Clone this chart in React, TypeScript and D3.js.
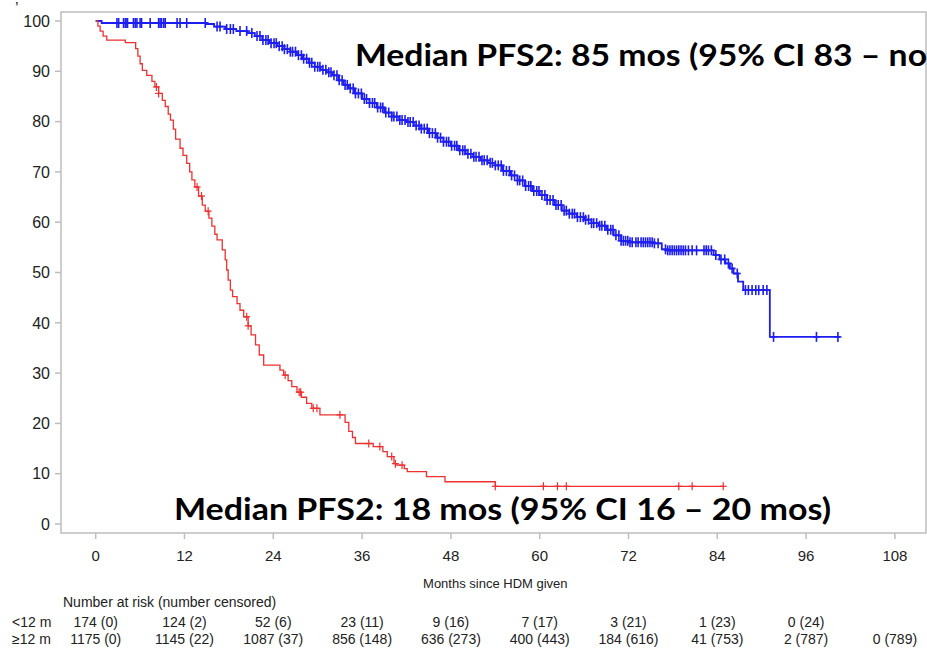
import React from 'react';
import * as d3 from 'd3';

const W = 927;
const H = 659;

const X_TICKS = [0, 12, 24, 36, 48, 60, 72, 84, 96, 108];
const Y_TICKS = [0, 10, 20, 30, 40, 50, 60, 70, 80, 90, 100];

// ≥12 m group (blue) Kaplan-Meier steps
const BLUE_T = [0, 0.8, 15, 16, 17.5, 19, 20.5, 21.5, 22.5, 23.5, 24.5, 25.5, 26.3, 27.2, 28, 28.8, 29.6, 30.4, 31.2, 32, 32.8, 33.5, 34.2, 35, 36, 37, 38, 39, 40, 41, 42, 43, 44, 45, 46, 47, 48, 49, 50, 51, 52, 53, 54, 55, 56, 57, 58, 59, 60, 61, 62, 63, 64, 65, 66, 67, 68, 69, 70, 71, 72, 75.5, 76.5, 77.3, 83.5, 84.3, 85.1, 85.7, 86.2, 86.8, 87.5, 91.1];
const BLUE_S = [100, 99.6, 99.4, 98.9, 98.4, 98.0, 97.6, 97.0, 96.2, 95.6, 95.0, 94.4, 93.9, 93.2, 92.5, 91.7, 90.9, 90.3, 89.8, 89.2, 88.2, 87.3, 86.6, 85.6, 84.5, 83.7, 82.8, 81.8, 81.0, 80.3, 79.9, 79.2, 78.6, 77.7, 76.8, 76.0, 75.2, 74.3, 73.6, 73.0, 72.3, 71.8, 71.3, 70.2, 69.3, 68.3, 67.2, 66.2, 65.4, 64.4, 63.4, 62.3, 61.7, 61.0, 60.5, 59.8, 59.3, 58.5, 57.4, 56.3, 56.0, 55.8, 54.6, 54.4, 53.5, 52.6, 51.8, 50.8, 49.8, 48.2, 46.5, 37.2];
const BLUE_END = 100.6;
const BLUE_CENSOR = [2.87, 3.1, 3.76, 4.0, 4.1, 4.3, 5.1, 5.34, 5.57, 6.0, 6.2, 7.36, 8.5, 8.7, 8.9, 9.2, 9.4, 11.0, 11.4, 12.3, 14.8, 16.4, 16.8, 17.7, 18.2, 18.6, 19.5, 20.4, 21.1,
  21.8, 22.2, 22.6, 23.0, 23.3, 23.7, 24.1, 24.4, 24.8, 25.2, 25.5, 25.9, 26.3, 26.6, 27.0, 27.4, 27.8, 28.1, 28.5, 28.9, 29.2, 29.6, 30.0, 30.3, 30.7, 31.1, 31.5, 31.8, 32.2, 32.6, 32.9, 33.3, 33.7, 34.0, 34.4, 34.8, 35.1, 35.5, 35.9, 36.3, 36.6, 37.0, 37.4, 37.7, 38.1, 38.5, 38.8, 39.2, 39.6, 40.0, 40.3, 40.7, 41.1, 41.4, 41.8, 42.2, 42.5, 42.9, 43.3, 43.7, 44.0, 44.4, 44.8, 45.1, 45.5, 45.9, 46.2, 46.6, 47.0, 47.4, 47.7, 48.1, 48.5, 48.8, 49.2, 49.6, 49.9, 50.3, 50.7, 51.1, 51.4, 51.8, 52.2, 52.5, 52.9, 53.3, 53.6, 54.0, 54.4, 54.8, 55.1, 55.5, 55.9, 56.2, 56.6, 57.0, 57.3, 57.7, 58.1, 58.5, 58.8, 59.2, 59.6, 59.9, 60.3, 60.7, 61.0, 61.4, 61.8, 62.2, 62.5, 62.9, 63.3, 63.6, 64.0, 64.4, 64.7, 65.1, 65.5, 65.9, 66.2, 66.6, 67.0, 67.3, 67.7, 68.1, 68.4, 68.8, 69.2, 69.6, 69.9, 70.3, 70.7, 71.0, 71.3,
  71.6, 71.9, 72.2, 72.5, 73.0, 73.3, 73.7, 74.0, 74.3, 74.6, 74.9, 75.2, 75.5, 76.0, 77.0, 77.3, 77.6, 77.9, 78.2, 78.5, 78.8, 79.1, 79.4, 79.7, 80.1, 80.6, 81.2, 82.2, 82.5, 82.8, 83.2, 83.8, 84.5, 85.0, 85.5, 86.0, 86.7, 87.8, 88.2, 88.7, 89.2, 89.6, 90.2, 90.7, 91.6, 97.4, 100.3];

// <12 m group (red)
const RED_T = [0, 0.3, 0.6, 1.0, 1.5, 4.0, 5.4, 5.7, 6.0, 6.3, 6.9, 7.6, 8.0, 8.5, 9.0, 9.4, 9.8, 10.1, 10.5, 10.8, 11.4, 11.8, 12.3, 12.7, 13.0, 13.4, 13.9, 14.4, 14.8, 15.3, 15.7, 16.1, 16.4, 17.1, 17.5, 17.7, 17.9, 18.2, 18.5, 19.1, 19.5, 20.0, 20.6, 21.0, 21.6, 22.1, 22.7, 24.9, 25.4, 26.0, 26.5, 27.2, 27.8, 28.5, 29.2, 30.3, 33.7, 34.2, 34.7, 35.1, 37.5, 38.8, 39.4, 40.3, 40.7, 41.7, 42.1, 44.7, 47.2, 54.0];
const RED_S = [100, 99, 98, 97, 96.2, 95.7, 94.5, 93.0, 91.5, 90.2, 89.2, 88.0, 86.9, 85.6, 84.2, 83.0, 81.5, 80.3, 78.5, 76.5, 74.7, 73.3, 71.7, 70.0, 68.4, 67.0, 65.2, 63.4, 62.2, 60.8, 59.2, 57.6, 56.5, 54.5, 52.5, 50.5, 48.5, 46.5, 45.2, 43.8, 42.5, 41.2, 39.4, 37.6, 35.6, 33.6, 31.6, 30.6, 29.6, 28.5, 27.3, 26.2, 25.2, 24.0, 23.0, 21.7, 20.2, 18.4, 17.2, 16.0, 15.4, 14.4, 13.4, 12.0, 11.7, 11.0, 10.4, 9.4, 8.4, 7.5];
const RED_END = 84.9;
const RED_CENSOR = [8.2, 8.5, 13.7, 14.3, 15.2, 20.4, 20.6, 25.6, 27.5, 27.7, 29.4, 29.9, 33.0, 36.9, 38.4, 40.0, 40.5, 41.4, 54.0, 60.5, 62.4, 63.6, 78.8, 80.6, 84.8];

const RISK_LABELS = ['<12 m', '≥12 m'];
const RISK_LT12 = ['174 (0)', '124 (2)', '52 (6)', '23 (11)', '9 (16)', '7 (17)', '3 (21)', '1 (23)', '0 (24)'];
const RISK_GE12 = ['1175 (0)', '1145 (22)', '1087 (37)', '856 (148)', '636 (273)', '400 (443)', '184 (616)', '41 (753)', '2 (787)', '0 (789)'];

const TOP_NOTE = 'Median PFS2: 85 mos (95% CI 83 – no';
const BOTTOM_NOTE = 'Median PFS2: 18 mos (95% CI 16 – 20 mos)';

const BLUE = '#1e1ef0';
const RED = '#ee3030';
const AXIS = '#bdbdbd';
const TXT = '#222';

function stepValue(T: number[], S: number[], t: number) {
  let v = S[0];
  for (let i = 0; i < T.length; i++) if (T[i] <= t) v = S[i];
  return v;
}

export default function App() {
  const x = d3.scaleLinear().domain([0, 108]).range([95.7, 894.9]);
  const y = d3.scaleLinear().domain([0, 100]).range([524, 21]);
  const line = d3
    .line<[number, number]>()
    .x((d) => x(d[0]))
    .y((d) => y(d[1]))
    .curve(d3.curveStepAfter);

  const bluePts: [number, number][] = BLUE_T.map((t, i) => [t, BLUE_S[i]] as [number, number]);
  bluePts.push([BLUE_END, BLUE_S[BLUE_S.length - 1]]);
  const redPts: [number, number][] = RED_T.map((t, i) => [t, RED_S[i]] as [number, number]);
  redPts.push([RED_END, RED_S[RED_S.length - 1]]);

  const censor = (t: number, T: number[], S: number[], color: string, h: number, w: number, sw: number, key: string) => {
    const cx = x(t);
    const cy = y(stepValue(T, S, t));
    return (
      <g key={key} stroke={color} strokeWidth={sw}>
        <line x1={cx} x2={cx} y1={cy - h} y2={cy + h} />
        <line x1={cx - w} x2={cx + w} y1={cy} y2={cy} />
      </g>
    );
  };

  const font = "'Liberation Sans', Arial, sans-serif";

  return (
    <svg
      width={W}
      height={H}
      viewBox={`0 0 ${W} ${H}`}
      style={{ position: 'absolute', left: 0, top: 0, display: 'block', background: '#fff' }}
    >
      <rect x={0} y={0} width={W} height={H} fill="#fff" />
      <text x={15} y={14} fontFamily={font} fontSize={16} fill={TXT}>’</text>
      {/* frame */}
      <rect x={61} y={12} width={865} height={521} fill="none" stroke={AXIS} strokeWidth={1.5} />
      {/* y axis ticks */}
      {Y_TICKS.map((v) => (
        <g key={'y' + v}>
          <line x1={55} x2={61} y1={y(v)} y2={y(v)} stroke={AXIS} strokeWidth={1.5} />
          <text x={50} y={y(v)} dy="0.36em" textAnchor="end" fontFamily={font} fontSize={16} fill={TXT}>
            {v}
          </text>
        </g>
      ))}
      {/* x axis ticks */}
      {X_TICKS.map((v) => (
        <g key={'x' + v}>
          <line x1={x(v)} x2={x(v)} y1={533} y2={539} stroke={AXIS} strokeWidth={1.5} />
          <text x={x(v)} y={561} textAnchor="middle" fontFamily={font} fontSize={15} fill={TXT}>
            {v}
          </text>
        </g>
      ))}
      <text x={(x(0) + x(108)) / 2} y={588} textAnchor="middle" fontFamily={font} fontSize={13} fill={TXT}>
        Months since HDM given
      </text>

      {/* curves */}
      <path d={line(bluePts) || ''} fill="none" stroke={BLUE} strokeWidth={1.8} />
      {BLUE_CENSOR.map((t, i) => censor(t, BLUE_T, BLUE_S, BLUE, 5, 3.5, 1.6, 'bc' + i))}
      <path d={line(redPts) || ''} fill="none" stroke={RED} strokeWidth={1.3} />
      {RED_CENSOR.map((t, i) => censor(t, RED_T, RED_S, RED, 4, 3.5, 1.2, 'rc' + i))}

      {/* annotations */}
      <text x={355} y={66} fontFamily="Lato, 'Open Sans', sans-serif" fontWeight={700} fontSize={30} fill="#000" textLength={572} lengthAdjust="spacingAndGlyphs">
        {TOP_NOTE}
      </text>
      <text x={174} y={520} fontFamily="Lato, 'Open Sans', sans-serif" fontWeight={700} fontSize={30} fill="#000" textLength={657} lengthAdjust="spacingAndGlyphs">
        {BOTTOM_NOTE}
      </text>

      {/* risk table */}
      <text x={63} y={607} fontFamily={font} fontSize={14} fill={TXT}>
        Number at risk (number censored)
      </text>
      <text x={12} y={627} fontFamily={font} fontSize={14} fill={TXT}>{RISK_LABELS[0]}</text>
      <text x={12} y={644} fontFamily={font} fontSize={14} fill={TXT}>{RISK_LABELS[1]}</text>
      {RISK_LT12.map((s, i) => (
        <text key={'r1' + i} x={x(X_TICKS[i])} y={627} textAnchor="middle" fontFamily={font} fontSize={14} fill={TXT}>
          {s}
        </text>
      ))}
      {RISK_GE12.map((s, i) => (
        <text key={'r2' + i} x={x(X_TICKS[i])} y={644} textAnchor="middle" fontFamily={font} fontSize={14} fill={TXT}>
          {s}
        </text>
      ))}
    </svg>
  );
}
